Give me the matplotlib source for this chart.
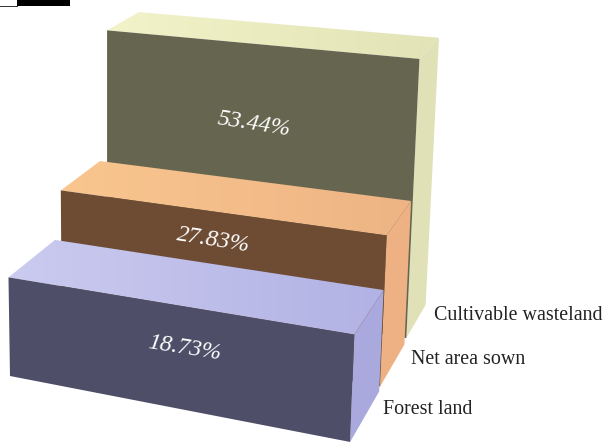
import matplotlib
matplotlib.use("Agg")
from matplotlib import pyplot as plt
from matplotlib.patches import Polygon, Rectangle
from matplotlib.colors import LinearSegmentedColormap
import numpy as np

# back to front
categories = ["Cultivable wasteland", "Net area sown", "Forest land"]
shares = [53.44, 27.83, 18.73]
share_labels = ["53.44%", "27.83%", "18.73%"]

front_colors = ["#666650", "#6e4c34", "#4e4e68"]
side_colors = ["#e0e1b6", "#edb183", "#a9a9dd"]
top_left_colors = ["#f2f3c8", "#f9c68f", "#cbcbf0"]
top_right_colors = ["#e2e3b6", "#eeb484", "#b2b2e4"]

# box extents along the width and the view direction
width_start = [0.01, 0.006, 0.0]
width_end = [0.99, 0.995, 1.0]
depth_start = [2.2, 1.1, 0.0]
depth_end = [3.05, 2.05, 1.0]

share_label_xy = [(254, 124), (213, 240), (184, 348)]
category_label_xy = [(434, 315), (411, 360), (383, 410)]

# vanishing points and weights of the camera, in pixels
VANISH_U = (-3450, -295)
VANISH_D = (823, -379)
VANISH_Z = (107, 6700)
ORIGIN = (10, 376)
WEIGHT_U, WEIGHT_D, WEIGHT_Z = -0.0895, 0.0596, -0.00082


def project(u, d, z):
    a, b, c = WEIGHT_U * u, WEIGHT_D * d, WEIGHT_Z * z
    w = 1 + a + b + c
    x = ORIGIN[0] + a * VANISH_U[0] + b * VANISH_D[0] + c * VANISH_Z[0]
    y = ORIGIN[1] + a * VANISH_U[1] + b * VANISH_D[1] + c * VANISH_Z[1]
    return x / w, y / w


def shaded_face(ax, corners, left, right, zorder):
    # horizontal gradient clipped to the face
    cmap = LinearSegmentedColormap.from_list("face", [left, right])
    xs = [p[0] for p in corners]
    ys = [p[1] for p in corners]
    im = ax.imshow(np.linspace(0, 1, 64).reshape(1, -1), cmap=cmap, aspect="auto",
                   extent=(min(xs), max(xs), max(ys), min(ys)), zorder=zorder)
    patch = Polygon(corners, closed=True, transform=ax.transData, fc="none", ec="none")
    ax.add_patch(patch)
    im.set_clip_path(patch)


fig = plt.figure(figsize=(6.07, 4.46), dpi=100)
ax = fig.add_axes([0, 0, 1, 1])

for i in range(len(shares)):
    u0, u1 = width_start[i], width_end[i]
    d0, d1, z = depth_start[i], depth_end[i], shares[i]
    top = [project(u0, d0, z), project(u1, d0, z), project(u1, d1, z), project(u0, d1, z)]
    side = [project(u1, d0, z), project(u1, d1, z), project(u1, d1, 0), project(u1, d0, 0)]
    front = [project(u0, d0, z), project(u1, d0, z), project(u1, d0, 0), project(u0, d0, 0)]
    shaded_face(ax, top, top_left_colors[i], top_right_colors[i], 2 + i)
    ax.add_patch(Polygon(side, closed=True, fc=side_colors[i], ec="none", zorder=2 + i))
    ax.add_patch(Polygon(front, closed=True, fc=front_colors[i], ec="none", zorder=2 + i))

for label, (x, y) in zip(share_labels, share_label_xy):
    ax.text(x, y, label, color="white", fontsize=17.2, family="Liberation Serif", style="italic",
            rotation=-9, rotation_mode="anchor", ha="center", va="center", zorder=10)

for name, (x, y) in zip(categories, category_label_xy):
    ax.text(x, y, name, color="#222222", fontsize=14.4, family="Liberation Serif",
            ha="left", va="center", zorder=10)

# header tab along the top edge
ax.add_patch(Rectangle((17, 0), 53, 6, fc="black", ec="none", zorder=10))
ax.plot([0, 17], [5.5, 5.5], color="#333333", lw=0.7, zorder=10)

ax.set_xlim(0, 607)
ax.set_ylim(446, 0)
ax.axis("off")
fig.savefig("out.png", dpi=100)
